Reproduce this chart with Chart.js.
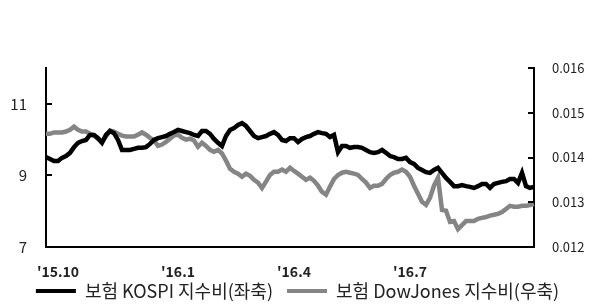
<!DOCTYPE html>
<html><head><meta charset="utf-8">
<script src="https://cdn.jsdelivr.net/npm/chart.js@4/dist/chart.umd.min.js"></script>
<style>html,body{margin:0;padding:0;background:#fff;}#wrap{width:595px;height:306px;}</style>
</head><body><div id="wrap"><canvas id="c" width="595" height="306"></canvas></div>
<script>
// Tick labels on the x axis and the sample index where each falls
const xTickLabels = ["'15.10", "'16.1", "'16.4", "'16.7"];
const xTickIndex = [3, 33, 62, 91];
// Axis ticks
const leftTicks = [7, 9, 11];
const rightTicks = [0.012, 0.013, 0.014, 0.015, 0.016];
// Series: 보험 KOSPI 지수비 (left axis)
const kospiRatio = [
 9.51,9.46,9.40,9.40,9.49,9.54,9.63,9.79,9.91,9.96,
 9.99,10.13,10.13,10.04,9.91,10.13,10.24,10.18,9.99,9.71,
 9.71,9.71,9.74,9.77,9.77,9.79,9.88,9.99,10.04,10.07,
 10.10,10.16,10.21,10.27,10.24,10.21,10.18,10.13,10.10,10.24,
 10.24,10.16,10.02,9.91,9.82,10.10,10.27,10.32,10.41,10.46,
 10.38,10.24,10.10,10.04,10.07,10.10,10.16,10.21,10.13,9.99,
 9.96,10.04,10.04,9.93,10.02,10.07,10.10,10.16,10.21,10.18,
 10.16,10.07,10.13,9.65,9.82,9.82,9.77,9.79,9.79,9.77,
 9.71,9.65,9.63,9.65,9.71,9.63,9.54,9.51,9.46,9.46,
 9.49,9.37,9.32,9.21,9.15,9.09,9.07,9.15,9.21,9.07,
 8.93,8.82,8.70,8.70,8.73,8.70,8.68,8.65,8.70,8.76,
 8.76,8.65,8.76,8.79,8.82,8.84,8.90,8.90,8.79,9.07,
 8.70,8.65,8.68
];
// Series: 보험 DowJones 지수비 (right axis)
const dowRatio = [
 0.01453,0.01453,0.01456,0.01456,0.01456,0.01458,0.01462,0.01469,0.01462,0.01458,
 0.01458,0.01453,0.01449,0.01442,0.01435,0.01447,0.01460,0.01458,0.01453,0.01449,
 0.01447,0.01447,0.01447,0.01451,0.01456,0.01451,0.01444,0.01438,0.01426,0.01429,
 0.01435,0.01442,0.01449,0.01451,0.01444,0.01440,0.01442,0.01438,0.01424,0.01433,
 0.01426,0.01417,0.01413,0.01417,0.01409,0.01393,0.01375,0.01368,0.01364,0.01357,
 0.01364,0.01359,0.01350,0.01344,0.01332,0.01346,0.01361,0.01368,0.01368,0.01373,
 0.01368,0.01377,0.01370,0.01364,0.01357,0.01350,0.01355,0.01348,0.01337,0.01323,
 0.01317,0.01335,0.01352,0.01361,0.01366,0.01368,0.01366,0.01364,0.01361,0.01352,
 0.01344,0.01332,0.01337,0.01337,0.01341,0.01352,0.01361,0.01366,0.01368,0.01373,
 0.01368,0.01357,0.01337,0.01319,0.01301,0.01294,0.01310,0.01337,0.01355,0.01283,
 0.01281,0.01256,0.01258,0.01240,0.01249,0.01258,0.01258,0.01258,0.01263,0.01265,
 0.01267,0.01270,0.01272,0.01274,0.01278,0.01285,0.01292,0.01290,0.01290,0.01292,
 0.01292,0.01294,0.01296
];
const seriesNames = ['보험 KOSPI 지수비(좌축)', '보험 DowJones 지수비(우축)'];

const labels = kospiRatio.map((v, i) => {
  const k = xTickIndex.indexOf(i);
  return k >= 0 ? xTickLabels[k] : '';
});

const FONT = "'Noto Sans CJK KR', 'Noto Sans', sans-serif";

const innerTicks = {
  id: 'innerTicks',
  afterDraw(chart) {
    const ctx = chart.ctx;
    const yl = chart.scales.y, yr = chart.scales.y1;
    ctx.save();
    ctx.strokeStyle = '#000';
    ctx.lineWidth = 2;
    yl.ticks.forEach(t => {
      const py = Math.round(yl.getPixelForValue(t.value));
      ctx.beginPath(); ctx.moveTo(yl.right, py); ctx.lineTo(yl.right + 6, py); ctx.stroke();
    });
    yr.ticks.forEach(t => {
      const py = Math.round(yr.getPixelForValue(t.value));
      ctx.beginPath(); ctx.moveTo(yr.left - 6, py); ctx.lineTo(yr.left, py); ctx.stroke();
    });
    ctx.restore();
  }
};

// lift the legend row closer to the x-axis labels
const legendLift = {
  id: 'legendLift',
  afterLayout(chart) {
    const lg = chart.legend;
    if (lg) { lg.top -= 18; }
  }
};

new Chart(document.getElementById('c'), {
  type: 'line',
  data: {
    labels: labels,
    datasets: [
      { label: seriesNames[0], data: kospiRatio, yAxisID: 'y',
        borderColor: '#000000', backgroundColor: '#000000', borderWidth: 4.5,
        pointRadius: 0, tension: 0 },
      { label: seriesNames[1], data: dowRatio, yAxisID: 'y1',
        borderColor: '#858585', backgroundColor: '#858585', borderWidth: 4.5,
        pointRadius: 0, tension: 0 }
    ]
  },
  options: {
    responsive: false,
    animation: false,
    devicePixelRatio: 1,
    layout: { padding: { top: 68, left: 0, right: 0, bottom: 0 } },
    plugins: {
      tooltip: { enabled: false },
      legend: {
        position: 'bottom',
        maxHeight: 20,
        labels: {
          boxWidth: 40, boxHeight: 4, padding: 14,
          color: '#222',
          font: { family: FONT, size: 18 },
          generateLabels: (chart) => Chart.defaults.plugins.legend.labels.generateLabels(chart)
            .map(l => Object.assign(l, { lineWidth: 0 }))
        }
      }
    },
    scales: {
      x: {
        type: 'category',
        grid: { drawOnChartArea: false, drawTicks: false },
        border: { display: true, color: '#000', width: 2 },
        afterFit: (ax) => { ax.height = 39; },
        ticks: { autoSkip: false, maxRotation: 0, minRotation: 0, padding: 16,
          color: '#222', font: { family: FONT, size: 14, weight: 'bold' } }
      },
      y: {
        position: 'left', min: 7, max: 12,
        afterBuildTicks: (ax) => { ax.ticks = leftTicks.map(v => ({ value: v })); },
        afterFit: (ax) => { ax.width = 46; },
        grid: { drawOnChartArea: false, drawTicks: false },
        border: { display: true, color: '#000', width: 2 },
        ticks: { padding: 19, color: '#222', font: { family: FONT, size: 15 } }
      },
      y1: {
        position: 'right', min: 0.012, max: 0.016,
        afterBuildTicks: (ax) => { ax.ticks = rightTicks.map(v => ({ value: v })); },
        afterFit: (ax) => { ax.width = 61; },
        grid: { drawOnChartArea: false, drawTicks: false },
        border: { display: true, color: '#000', width: 2 },
        ticks: { padding: 18, color: '#222', font: { family: FONT, size: 13 },
          callback: (v) => Number(v).toFixed(3) }
      }
    }
  },
  plugins: [innerTicks, legendLift]
});
</script>
</body></html>
